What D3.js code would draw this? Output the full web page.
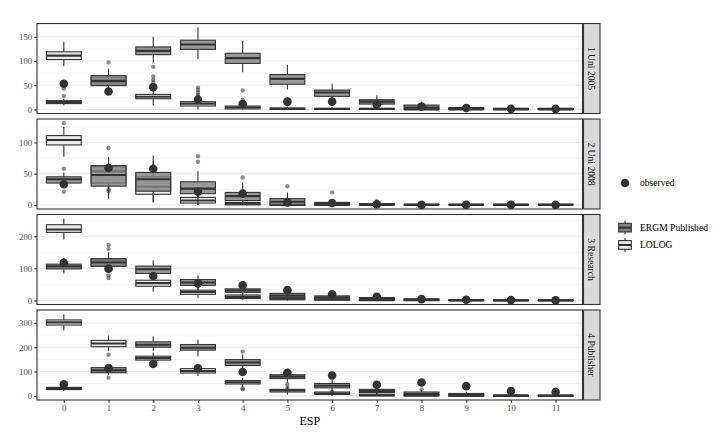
<!DOCTYPE html>
<html lang="en">
<head>
<meta charset="UTF-8">
<title>ESP goodness of fit</title>
<script src="https://d3js.org/d3.v7.min.js"></script>
<style>
  body { margin: 0; background: #fff; }
  text { font-family: "Liberation Serif", "DejaVu Serif", serif; }
</style>
</head>
<body>
<div id="chart"></div>
<script>
// ESP categories and panel names
var espLabels = ["0", "1", "2", "3", "4", "5", "6", "7", "8", "9", "10", "11"];
var panelNames = ["1 Uni 2005", "2 Uni 2008", "3 Research", "4 Publisher"];
var panelTicks = [[0, 50, 100, 150], [0, 50, 100], [0, 100, 200], [0, 100, 200, 300]];
var modelNames = ["ERGM Published", "LOLOG"];

// box summaries per ESP: [lower whisker, q1, median, q3, upper whisker]
var uni2005Ergm = [[8,12,15,18,22],[38,49,59,70,84],[97,113,121,129,150],[104,124,134,143,169],[77,95,106,116,142],[41,52,63,72,92],[20,27,35,40,53],[4,11,16,20,29],[0,1,4,9,16],[0,1,2,4,8],[0,0,1,2,4],[0,0,1,2,3]];
var uni2005Lolog = [[89,103,111,119,140],[40,52,57,66,80],[8,22,26,31,40],[0,7,12,16,26],[0,1,4,7,14],[0,0,1,3,6],[0,0,1,2,5],[0,0,1,2,4],[0,0,0,1,2],[0,0,0,1,2],[0,0,0,1,2],[0,0,0,1,2]];
var uni2008Ergm = [[28,35,41,45,52],[10,30,48,63,77],[4,22,41,52,79],[0,18,26,37,54],[0,7,14,20,36],[0,0,5,10,20],[0,0,2,4,9],[0,0,1,2,4],[0,0,0,1,2],[0,0,0,1,2],[0,0,0,1,2],[0,0,0,1,2]];
var uni2008Lolog = [[77,96,104,111,125],[20,35,54,61,75],[5,17,29,45,70],[0,3,7,12,20],[0,0,2,4,9],[0,0,0,1,2],[0,0,0,1,2],[0,0,0,0,1],[0,0,0,0,1],[0,0,0,0,1],[0,0,0,0,1],[0,0,0,0,1]];
var researchErgm = [[84,98,106,113,132],[88,106,118,130,150],[70,84,97,107,125],[32,47,56,65,78],[12,25,31,36,48],[2,8,15,22,32],[0,4,9,14,20],[0,2,5,9,14],[0,0,2,5,9],[0,0,1,2,5],[0,0,0,1,3],[0,0,0,1,2]];
var researchLolog = [[190,212,221,236,255],[88,110,122,128,140],[27,44,54,63,80],[7,19,26,32,45],[2,6,11,17,25],[0,2,6,10,18],[0,1,3,6,10],[0,0,1,3,6],[0,0,1,2,4],[0,0,0,1,2],[0,0,0,1,2],[0,0,0,1,2]];
var publisherErgm = [[20,26,31,35,42],[85,95,105,116,130],[184,200,210,222,245],[163,188,198,211,231],[100,125,137,149,170],[55,71,79,87,103],[20,33,42,51,65],[5,14,20,27,36],[0,3,8,16,25],[0,0,4,10,18],[0,0,1,3,7],[0,0,1,2,5]];
var publisherLolog = [[269,291,302,312,336],[184,202,215,228,248],[130,147,155,163,178],[82,94,102,112,125],[38,49,56,63,75],[5,16,22,27,40],[0,6,10,16,25],[0,0,3,7,12],[0,0,2,5,9],[0,0,1,3,6],[0,0,0,1,3],[0,0,0,1,3]];

// outliers: [esp index, value]
var uni2005Outliers = [[0,28],[0,43],[1,97],[2,46],[2,56],[2,61],[2,68],[2,88],[3,27],[3,30],[3,35],[3,40],[3,45],[4,15],[4,20],[4,39]];
var uni2008Outliers = [[0,131],[0,58],[0,21],[1,91],[1,22],[1,25],[3,69],[3,78],[4,44],[5,30],[6,20],[7,6]];
var researchOutliers = [[1,161],[1,173],[1,70],[1,78]];
var publisherOutliers = [[1,169],[1,75],[2,122],[2,127],[4,182],[4,27],[4,31],[5,48],[5,34],[6,17],[8,27]];

// observed statistics
var uni2005Observed = [53, 37, 46, 20, 11, 16, 16, 10, 6, 3, 1, 1];
var uni2008Observed = [33, 59, 58, 21, 18, 4, 3, 1, 0, 0, 0, 0];
var researchObserved = [117, 99, 76, 53, 47, 32, 19, 11, 4, 2, 1, 0];
var publisherObserved = [48, 114, 132, 113, 98, 95, 84, 46, 55, 40, 20, 16];

var panels = [
  {name: panelNames[0], ticks: panelTicks[0], ergm: uni2005Ergm, lolog: uni2005Lolog, out: uni2005Outliers, obs: uni2005Observed},
  {name: panelNames[1], ticks: panelTicks[1], ergm: uni2008Ergm, lolog: uni2008Lolog, out: uni2008Outliers, obs: uni2008Observed},
  {name: panelNames[2], ticks: panelTicks[2], ergm: researchErgm, lolog: researchLolog, out: researchOutliers, obs: researchObserved},
  {name: panelNames[3], ticks: panelTicks[3], ergm: publisherErgm, lolog: publisherLolog, out: publisherOutliers, obs: publisherObserved}
];

var width = 720, height = 432;
var plotLeft = 37, plotRight = 582.5, plotTop = 23.5, panelH = 90, gap = 5.5;
var stripW = 16.5;
var ergmFill = "#7f7f7f", lologFill = "#ebebeb", ink = "#333333";

var svg = d3.select("#chart").append("svg")
    .attr("width", width)
    .attr("height", height);
svg.append("rect").attr("width", width).attr("height", height).attr("fill", "#fff");

var x = d3.scalePoint().domain(espLabels).range([plotLeft, plotRight]).padding(0.6);
var boxW = x.step() * 0.78;

panels.forEach(function(p, i) {
  var y0 = plotTop + i * (panelH + gap);
  var y1 = y0 + panelH;

  // y domain from the data with ggplot's 5% expansion
  var all = [];
  p.ergm.concat(p.lolog).forEach(function(b) { all.push(b[0], b[4]); });
  p.out.forEach(function(o) { all.push(o[1]); });
  all = all.concat(p.obs);
  var lo = d3.min(all), hi = d3.max(all), pad = (hi - lo) * 0.05;
  var y = d3.scaleLinear().domain([lo - pad, hi + pad]).range([y1, y0]);

  var g = svg.append("g");

  // grid lines
  var step = p.ticks[1] - p.ticks[0];
  var minor = [];
  for (var v = p.ticks[0] - step / 2; v <= hi + pad; v += step) {
    if (v >= lo - pad) minor.push(v);
  }
  g.selectAll(".minor").data(minor).enter().append("line")
    .attr("x1", plotLeft).attr("x2", plotRight)
    .attr("y1", function(d) { return y(d); }).attr("y2", function(d) { return y(d); })
    .attr("stroke", "#ebebeb").attr("stroke-width", 0.55);
  g.selectAll(".major").data(p.ticks).enter().append("line")
    .attr("x1", plotLeft).attr("x2", plotRight)
    .attr("y1", function(d) { return y(d); }).attr("y2", function(d) { return y(d); })
    .attr("stroke", "#ebebeb").attr("stroke-width", 1.1);

  // boxes: LOLOG underneath, ERGM drawn over it
  [[p.lolog, lologFill, 1], [p.ergm, ergmFill, 0.8]].forEach(function(m) {
    var bg = g.selectAll(null).data(m[0]).enter().append("g");
    bg.append("line")
      .attr("x1", function(d, k) { return x(espLabels[k]); })
      .attr("x2", function(d, k) { return x(espLabels[k]); })
      .attr("y1", function(d) { return y(d[0]); })
      .attr("y2", function(d) { return y(d[1]); })
      .attr("stroke", ink).attr("stroke-width", 1.1);
    bg.append("line")
      .attr("x1", function(d, k) { return x(espLabels[k]); })
      .attr("x2", function(d, k) { return x(espLabels[k]); })
      .attr("y1", function(d) { return y(d[3]); })
      .attr("y2", function(d) { return y(d[4]); })
      .attr("stroke", ink).attr("stroke-width", 1.1);
    bg.append("rect")
      .attr("x", function(d, k) { return x(espLabels[k]) - boxW / 2; })
      .attr("width", boxW)
      .attr("y", function(d) { return y(d[3]); })
      .attr("height", function(d) { return Math.max(0, y(d[1]) - y(d[3])); })
      .attr("fill", m[1]).attr("fill-opacity", m[2])
      .attr("stroke", ink).attr("stroke-width", 1.1);
    bg.append("line")
      .attr("x1", function(d, k) { return x(espLabels[k]) - boxW / 2; })
      .attr("x2", function(d, k) { return x(espLabels[k]) + boxW / 2; })
      .attr("y1", function(d) { return y(d[2]); })
      .attr("y2", function(d) { return y(d[2]); })
      .attr("stroke", ink).attr("stroke-width", 2.1);
  });

  // outliers
  g.selectAll(".out").data(p.out).enter().append("circle")
    .attr("cx", function(d) { return x(espLabels[d[0]]); })
    .attr("cy", function(d) { return y(d[1]); })
    .attr("r", 2.2)
    .attr("fill", ink).attr("fill-opacity", 0.55);

  // observed values
  g.selectAll(".obs").data(p.obs).enter().append("circle")
    .attr("cx", function(d, k) { return x(espLabels[k]); })
    .attr("cy", function(d) { return y(d); })
    .attr("r", 4.3)
    .attr("fill", ink);

  // panel border
  g.append("rect").attr("x", plotLeft).attr("y", y0).attr("width", plotRight - plotLeft).attr("height", panelH)
    .attr("fill", "none").attr("stroke", ink).attr("stroke-width", 1.1);

  // y axis
  var ya = g.append("g").attr("transform", "translate(" + plotLeft + ",0)")
    .call(d3.axisLeft(y).tickValues(p.ticks).tickSize(2.75).tickPadding(2));
  ya.select(".domain").remove();
  ya.selectAll(".tick line").attr("stroke", ink).attr("stroke-width", 1.1);
  ya.selectAll(".tick text").attr("fill", "#4d4d4d").style("font-size", "8.8px")
    .style("font-family", "Liberation Serif, serif");

  // strip
  g.append("rect").attr("x", plotRight + 1).attr("y", y0).attr("width", stripW).attr("height", panelH)
    .attr("fill", "#d9d9d9").attr("stroke", ink).attr("stroke-width", 1.1);
  g.append("text")
    .attr("transform", "translate(" + (plotRight + 1 + stripW / 2) + "," + (y0 + panelH / 2) + ") rotate(90)")
    .attr("text-anchor", "middle").attr("dy", "0.35em")
    .attr("fill", "#1a1a1a").style("font-size", "9.6px")
    .text(p.name);

  // x axis under the last panel
  if (i === panels.length - 1) {
    var xa = g.append("g").attr("transform", "translate(0," + y1 + ")")
      .call(d3.axisBottom(x).tickSize(2.75).tickPadding(2));
    xa.select(".domain").remove();
    xa.selectAll(".tick line").attr("stroke", ink).attr("stroke-width", 1.1);
    xa.selectAll(".tick text").attr("fill", "#4d4d4d").style("font-size", "8.8px")
      .style("font-family", "Liberation Serif, serif");
  }
});

// x axis title
svg.append("text")
  .attr("x", (plotLeft + plotRight) / 2).attr("y", 424.5)
  .attr("text-anchor", "middle").style("font-size", "12px").attr("fill", "#000")
  .text("ESP");

// legend
var lx = 617;
svg.append("circle").attr("cx", lx + 8).attr("cy", 183).attr("r", 4.3).attr("fill", ink);
svg.append("text").attr("x", lx + 23).attr("y", 183).attr("dy", "0.35em")
  .style("font-size", "9.6px").attr("fill", "#000").text("observed");

var keys = svg.selectAll(".key").data(modelNames).enter().append("g")
  .attr("transform", function(d, k) { return "translate(" + lx + "," + (219 + k * 17.3) + ")"; });
keys.append("line").attr("x1", 8).attr("x2", 8).attr("y1", 1.7).attr("y2", 15.6)
  .attr("stroke", ink).attr("stroke-width", 1.1);
keys.append("rect").attr("x", 1.7).attr("y", 4.3).attr("width", 12.6).attr("height", 8.7)
  .attr("fill", function(d, k) { return k === 0 ? ergmFill : lologFill; })
  .attr("stroke", ink).attr("stroke-width", 1.1);
keys.append("line").attr("x1", 1.7).attr("x2", 14.3).attr("y1", 8.65).attr("y2", 8.65)
  .attr("stroke", ink).attr("stroke-width", 2.1);
keys.append("text").attr("x", 23).attr("y", 8.65).attr("dy", "0.35em")
  .style("font-size", "9.6px").attr("fill", "#000")
  .text(function(d) { return d; });
</script>
</body>
</html>
